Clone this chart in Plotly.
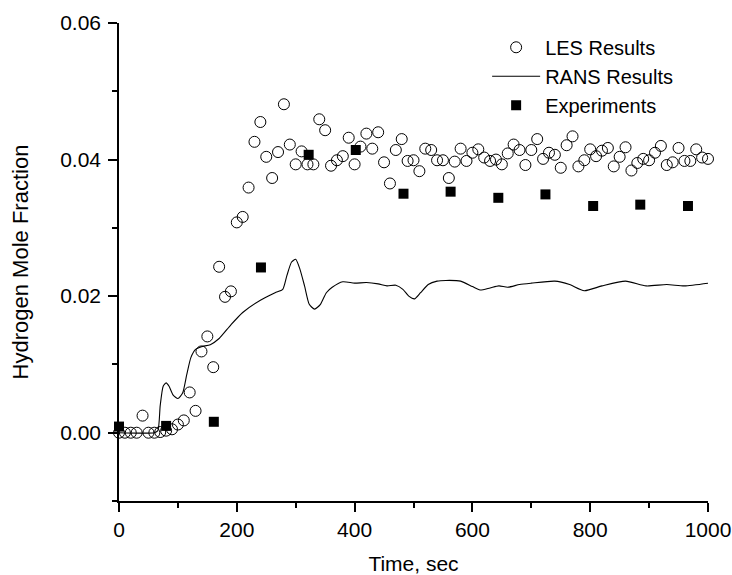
import plotly.graph_objects as go

# ---------------- data ----------------
les_time = list(range(0, 1001, 10))
les_h2 = [
    0.0, 0.0, 0.0, 0.0, 0.0025, 0.0, 0.0, 0.0001, 0.0003, 0.0005,
    0.0012, 0.0018, 0.0059, 0.0032, 0.0119, 0.0141, 0.0096, 0.0243, 0.0199, 0.0207,
    0.0308, 0.0316, 0.0359, 0.0426, 0.0455, 0.0404, 0.0373, 0.0411, 0.0481, 0.0422,
    0.0393, 0.0412, 0.0393, 0.0393, 0.0459, 0.0443, 0.0391, 0.0399, 0.0405, 0.0432,
    0.0393, 0.0419, 0.0438, 0.0416, 0.0440, 0.0396, 0.0365, 0.0414, 0.0430, 0.0398,
    0.0399, 0.0383, 0.0416, 0.0414, 0.0399, 0.0399, 0.0373, 0.0397, 0.0416, 0.0398,
    0.0410, 0.0415, 0.0403, 0.0398, 0.0400, 0.0393, 0.0409, 0.0422, 0.0414, 0.0392,
    0.0414, 0.0430, 0.0401, 0.0410, 0.0407, 0.0388, 0.0421, 0.0434, 0.0390, 0.0399,
    0.0415, 0.0405, 0.0413, 0.0417, 0.0390, 0.0404, 0.0418, 0.0384, 0.0395, 0.0401,
    0.0399, 0.0410, 0.0420, 0.0392, 0.0396, 0.0417, 0.0398, 0.0398, 0.0415, 0.0403,
    0.0401,
]

rans_time = [0, 60, 66, 70, 75, 80, 85, 92, 100, 108, 115, 122, 130, 140, 155, 170,
             190, 210, 240, 265, 278, 285, 293, 300, 307, 315, 323, 332, 342, 352,
             362, 380, 400, 420, 440, 455, 470, 482, 492, 502, 512, 525, 540, 555,
             580, 600, 613, 630, 645, 660, 680, 700, 740, 765, 790, 820, 860, 895,
             930, 960, 1000]
rans_h2 = [0.0, 0.0, 0.0003, 0.0040, 0.0068, 0.0073, 0.0068, 0.0055, 0.0050, 0.0058,
           0.0085, 0.0110, 0.0122, 0.0126, 0.0129, 0.0138, 0.0158, 0.0176, 0.0194,
           0.0205, 0.0210, 0.0230, 0.0250, 0.0254, 0.0240, 0.0215, 0.0188, 0.0181,
           0.0188, 0.0205, 0.0213, 0.0221, 0.0219, 0.0220, 0.0218, 0.0215, 0.0216,
           0.0210, 0.0200, 0.0196, 0.0205, 0.0217, 0.0222, 0.0223, 0.0222, 0.0214,
           0.0209, 0.0212, 0.0215, 0.0213, 0.0217, 0.0219, 0.0222, 0.0217, 0.0208,
           0.0215, 0.0222, 0.0215, 0.0217, 0.0215, 0.0219]

exp_time = [0, 80, 161, 241, 322, 402, 483, 563, 644, 724, 805, 885, 966]
exp_h2 = [0.0009, 0.0010, 0.0016, 0.0242, 0.0407, 0.0414, 0.0350, 0.0353, 0.0344,
          0.0349, 0.0332, 0.0334, 0.0332]

y_ticks = [0.0, 0.02, 0.04, 0.06]
y_minor = [-0.01, 0.01, 0.03, 0.05]
x_ticks = [0, 200, 400, 600, 800, 1000]
x_minor = [100, 300, 500, 700, 900]

FONT = "Arial, 'Liberation Sans', sans-serif"

fig = go.Figure()
fig.add_trace(go.Scatter(
    x=les_time, y=les_h2, mode="markers", name="LES Results",
    marker=dict(symbol="circle-open", size=11, color="black", line=dict(width=1, color="black")),
    cliponaxis=False,
))
fig.add_trace(go.Scatter(
    x=rans_time, y=rans_h2, mode="lines", name="RANS Results",
    line=dict(color="black", width=1.1, shape="spline", smoothing=0.6),
))
fig.add_trace(go.Scatter(
    x=exp_time, y=exp_h2, mode="markers", name="Experiments",
    marker=dict(symbol="square", size=10, color="black"),
    cliponaxis=False,
))

fig.update_layout(
    template="none",
    width=732, height=575,
    margin=dict(l=119, r=24, t=23, b=74, autoexpand=False),
    paper_bgcolor="white", plot_bgcolor="white",
    font=dict(family=FONT, size=21, color="black"),
    showlegend=True,
    legend=dict(
        x=0.625, y=0.99, xanchor="left", yanchor="top", itemwidth=48,
        bgcolor="rgba(0,0,0,0)", borderwidth=0,
        font=dict(size=20, family=FONT, color="black"),
    ),
    xaxis=dict(
        automargin=False,
        range=[0, 1000], tickvals=x_ticks, ticks="outside", ticklen=9, tickwidth=1.5,
        tickcolor="black", showline=True, linecolor="black", linewidth=1.5,
        showgrid=False, zeroline=False, mirror=False,
        minor=dict(tickvals=x_minor, ticks="outside", ticklen=5,
                   tickwidth=1.5, tickcolor="black", showgrid=False),
        title=dict(text="Time, sec", standoff=18, font=dict(size=21, family=FONT)),
        tickfont=dict(size=21, family=FONT),
    ),
    yaxis=dict(
        automargin=False,
        range=[-0.01, 0.06], tickvals=y_ticks, tickformat=".2f", ticks="outside",
        ticklen=9, tickwidth=1.5, tickcolor="black", showline=True, linecolor="black",
        linewidth=1.5, showgrid=False, zeroline=False, mirror=False,
        ticklabelstandoff=3,
        minor=dict(tickvals=y_minor, ticks="outside", ticklen=5, tickwidth=1.5,
                   tickcolor="black", showgrid=False),
        title=dict(text="Hydrogen Mole Fraction", standoff=25, font=dict(size=22, family=FONT)),
        tickfont=dict(size=21, family=FONT),
    ),
)

fig.write_html("out.html")
